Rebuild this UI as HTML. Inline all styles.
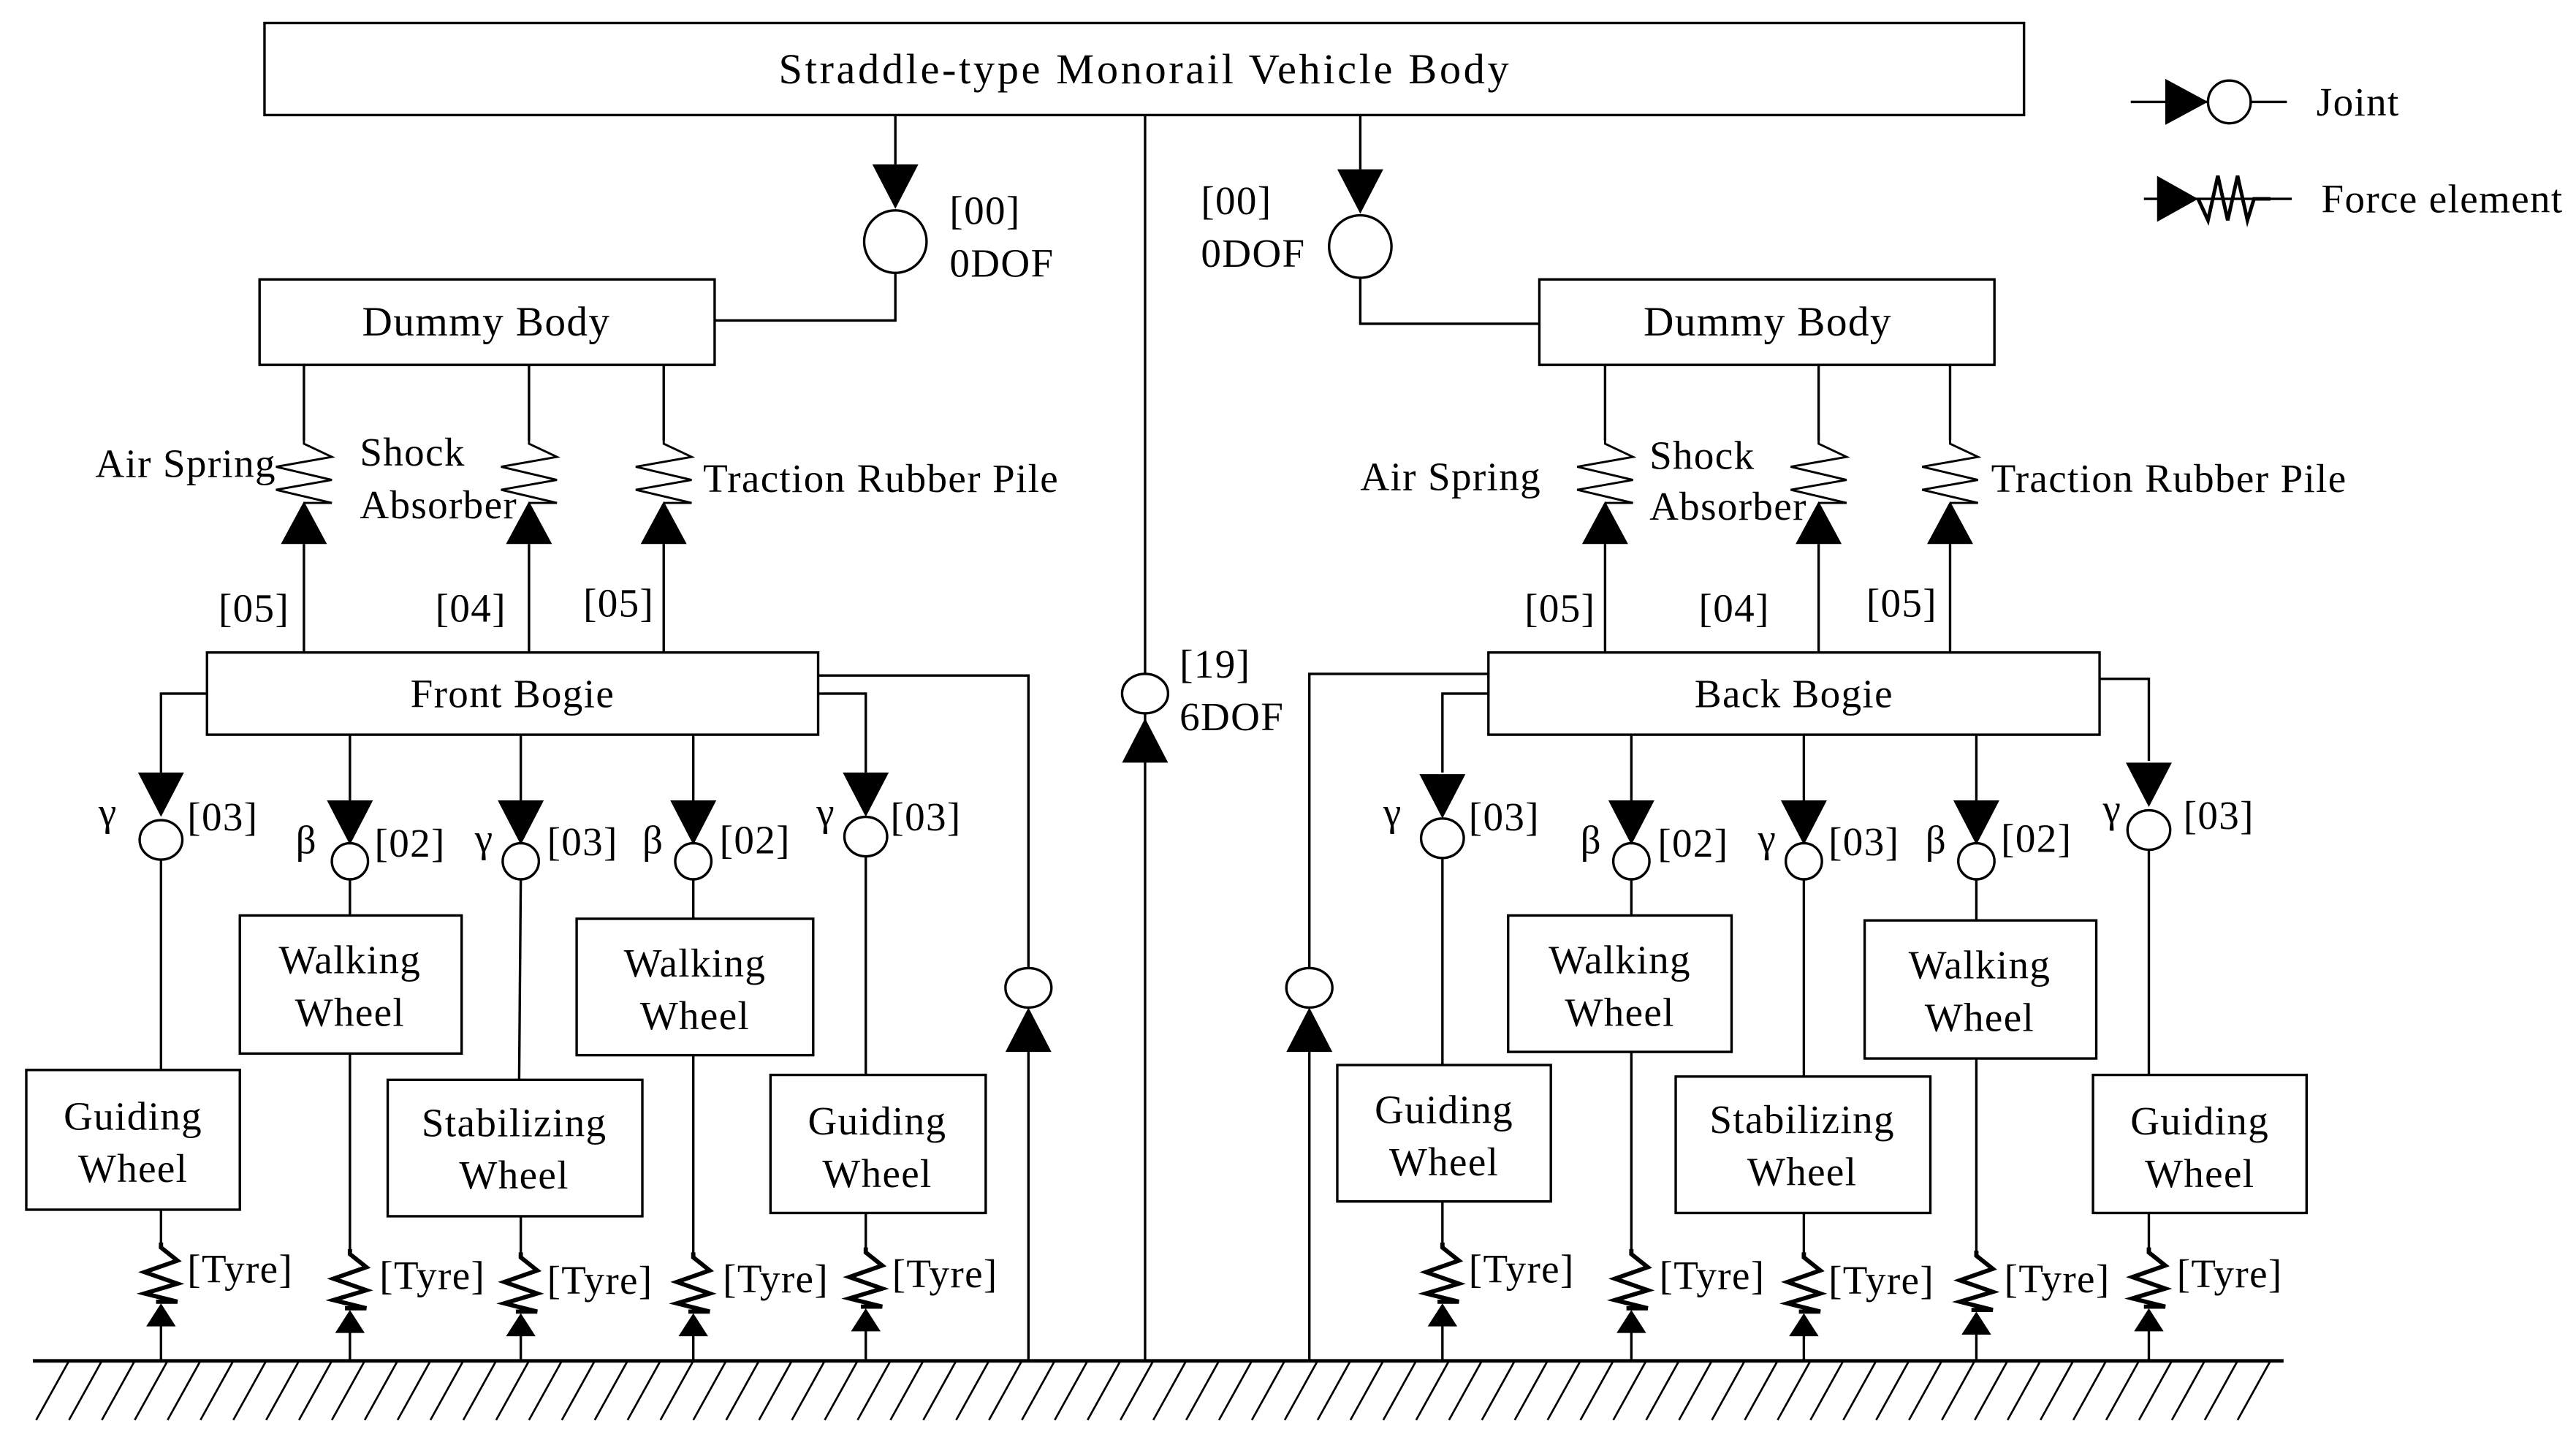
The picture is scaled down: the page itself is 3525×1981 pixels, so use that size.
<!DOCTYPE html>
<html><head><meta charset="utf-8"><style>
html,body{margin:0;padding:0;background:#fff}
svg{display:block}
text{font-family:"Liberation Serif",serif;fill:#000}
</style></head><body>
<svg width="3525" height="1981" viewBox="0 0 1568 881" preserveAspectRatio="none" xmlns="http://www.w3.org/2000/svg">
<defs>
<g id="jd"><polygon points="-14,0 14,0 0,27" fill="#000"/></g>
<g id="sp"><polyline points="0,0 0,4 17,12 -17,18 17,26 -17,32 17,40 0,40" fill="none" stroke="#000" stroke-width="1.3"/></g>
<g id="ty"><polyline points="0,0 0,3 10,11 -10,18 10,25 -10,31 10,36 -3,36" fill="none" stroke="#000" stroke-width="2.6"/><polygon points="0,37 -9,51 9,51" fill="#000"/></g>
</defs>
<g fill="none" stroke="#000" stroke-width="1.5">
<rect x="161" y="14" width="1071" height="56"/>
<rect x="158" y="170" width="277" height="52"/>
<rect x="937" y="170" width="277" height="52"/>
<rect x="126" y="397" width="372" height="50"/>
<rect x="906" y="397" width="372" height="50"/>
<rect x="16" y="651" width="130" height="85"/>
<rect x="146" y="557" width="135" height="84"/>
<rect x="236" y="657" width="155" height="83"/>
<rect x="351" y="559" width="144" height="83"/>
<rect x="469" y="654" width="131" height="84"/>
<rect x="814" y="648" width="130" height="83"/>
<rect x="918" y="557" width="136" height="83"/>
<rect x="1020" y="655" width="155" height="83"/>
<rect x="1135" y="560" width="141" height="84"/>
<rect x="1274" y="654" width="130" height="84"/>
<line x1="697" y1="70" x2="697" y2="828"/>
<line x1="545" y1="70" x2="545" y2="100"/>
<polyline points="545,166 545,195 435,195"/>
<ellipse cx="545" cy="147" rx="19" ry="19"/>
<line x1="828" y1="70" x2="828" y2="103"/>
<polyline points="828,169 828,197 937,197"/>
<ellipse cx="828" cy="150" rx="19" ry="19"/>
<line x1="185" y1="222" x2="185" y2="268"/><line x1="185" y1="331" x2="185" y2="397"/>
<line x1="322" y1="222" x2="322" y2="268"/><line x1="322" y1="331" x2="322" y2="397"/>
<line x1="404" y1="222" x2="404" y2="268"/><line x1="404" y1="331" x2="404" y2="397"/>
<line x1="977" y1="222" x2="977" y2="268"/><line x1="977" y1="331" x2="977" y2="397"/>
<line x1="1107" y1="222" x2="1107" y2="268"/><line x1="1107" y1="331" x2="1107" y2="397"/>
<line x1="1187" y1="222" x2="1187" y2="268"/><line x1="1187" y1="331" x2="1187" y2="397"/>
<ellipse cx="697" cy="422" rx="14" ry="12" fill="#fff"/>
<polyline points="498,411 626,411 626,589"/>
<ellipse cx="626" cy="601" rx="14" ry="12"/>
<line x1="626" y1="640" x2="626" y2="828"/>
<polyline points="906,410 797,410 797,589"/>
<ellipse cx="797" cy="601" rx="14" ry="12"/>
<line x1="797" y1="640" x2="797" y2="828"/>
<polyline points="126,422 98,422 98,470"/>
<line x1="213" y1="447" x2="213" y2="487"/>
<line x1="317" y1="447" x2="317" y2="487"/>
<line x1="422" y1="447" x2="422" y2="487"/>
<polyline points="498,422 527,422 527,470"/>
<polyline points="906,422 878,422 878,470"/>
<line x1="993" y1="447" x2="993" y2="487"/>
<line x1="1098" y1="447" x2="1098" y2="487"/>
<line x1="1203" y1="447" x2="1203" y2="487"/>
<polyline points="1278,413 1308,413 1308,463"/>
<ellipse cx="98" cy="511" rx="13" ry="12"/><ellipse cx="213" cy="524" rx="11" ry="11"/>
<ellipse cx="317" cy="524" rx="11" ry="11"/><ellipse cx="422" cy="524" rx="11" ry="11"/>
<ellipse cx="527" cy="509" rx="13" ry="12"/>
<ellipse cx="878" cy="510" rx="13" ry="12"/><ellipse cx="993" cy="524" rx="11" ry="11"/>
<ellipse cx="1098" cy="524" rx="11" ry="11"/><ellipse cx="1203" cy="524" rx="11" ry="11"/>
<ellipse cx="1308" cy="505" rx="13" ry="12"/>
<line x1="98" y1="523" x2="98" y2="651"/><line x1="213" y1="535" x2="213" y2="557"/>
<line x1="317" y1="535" x2="316" y2="657"/><line x1="422" y1="535" x2="422" y2="559"/>
<line x1="527" y1="521" x2="527" y2="654"/>
<line x1="878" y1="522" x2="878" y2="648"/><line x1="993" y1="535" x2="993" y2="557"/>
<line x1="1098" y1="535" x2="1098" y2="655"/><line x1="1203" y1="535" x2="1203" y2="560"/>
<line x1="1308" y1="517" x2="1308" y2="654"/>
<line x1="98" y1="736" x2="98" y2="758"/><line x1="98" y1="806" x2="98" y2="828"/>
<line x1="213" y1="641" x2="213" y2="762"/><line x1="213" y1="810" x2="213" y2="828"/>
<line x1="317" y1="740" x2="317" y2="764"/><line x1="317" y1="812" x2="317" y2="828"/>
<line x1="422" y1="642" x2="422" y2="764"/><line x1="422" y1="812" x2="422" y2="828"/>
<line x1="527" y1="738" x2="527" y2="761"/><line x1="527" y1="809" x2="527" y2="828"/>
<line x1="878" y1="731" x2="878" y2="758"/><line x1="878" y1="806" x2="878" y2="828"/>
<line x1="993" y1="640" x2="993" y2="762"/><line x1="993" y1="810" x2="993" y2="828"/>
<line x1="1098" y1="738" x2="1098" y2="764"/><line x1="1098" y1="812" x2="1098" y2="828"/>
<line x1="1203" y1="644" x2="1203" y2="763"/><line x1="1203" y1="811" x2="1203" y2="828"/>
<line x1="1308" y1="738" x2="1308" y2="761"/><line x1="1308" y1="809" x2="1308" y2="828"/>
<line x1="1297" y1="62" x2="1392" y2="62"/>
<ellipse cx="1357" cy="62" rx="13" ry="13" fill="#fff"/>
<line x1="1305" y1="121" x2="1395" y2="121"/>
</g>
<g fill="#000">
<polygon points="531,100 559,100 545,127"/>
<polygon points="814,103 842,103 828,130"/>
<polygon points="683,464 711,464 697,437"/>
<polygon points="612,640 640,640 626,613"/>
<polygon points="783,640 811,640 797,613"/>
<polygon points="171,331 199,331 185,305"/>
<polygon points="308,331 336,331 322,305"/>
<polygon points="390,331 418,331 404,305"/>
<polygon points="963,331 991,331 977,305"/>
<polygon points="1093,331 1121,331 1107,305"/>
<polygon points="1173,331 1201,331 1187,305"/>
<use href="#jd" x="98" y="470"/><use href="#jd" x="213" y="487"/><use href="#jd" x="317" y="487"/><use href="#jd" x="422" y="487"/><use href="#jd" x="527" y="470"/>
<use href="#jd" x="878" y="471"/><use href="#jd" x="993" y="487"/><use href="#jd" x="1098" y="487"/><use href="#jd" x="1203" y="487"/><use href="#jd" x="1308" y="464"/>
<polygon points="1318,48 1318,76 1344,62"/>
<polygon points="1313,107 1313,135 1338,121"/>
</g>
<polyline points="1338,121 1344,134 1350,107 1356,134 1362,107 1368,134 1372,121 1382,121" fill="none" stroke="#000" stroke-width="2.2"/>
<use href="#sp" x="185" y="266"/><use href="#sp" x="322" y="266"/><use href="#sp" x="404" y="266"/>
<use href="#sp" x="977" y="266"/><use href="#sp" x="1107" y="266"/><use href="#sp" x="1187" y="266"/>
<use href="#ty" x="98" y="756"/><use href="#ty" x="213" y="760"/><use href="#ty" x="317" y="762"/><use href="#ty" x="422" y="762"/><use href="#ty" x="527" y="759"/>
<use href="#ty" x="878" y="756"/><use href="#ty" x="993" y="760"/><use href="#ty" x="1098" y="762"/><use href="#ty" x="1203" y="761"/><use href="#ty" x="1308" y="759"/>
<line x1="20" y1="828" x2="1390" y2="828" stroke="#000" stroke-width="2.2"/>
<g stroke="#000" stroke-width="1.2">
<line x1="42" y1="828" x2="22" y2="864"/><line x1="62" y1="828" x2="42" y2="864"/><line x1="82" y1="828" x2="62" y2="864"/><line x1="102" y1="828" x2="82" y2="864"/><line x1="122" y1="828" x2="102" y2="864"/><line x1="142" y1="828" x2="122" y2="864"/><line x1="162" y1="828" x2="142" y2="864"/><line x1="182" y1="828" x2="162" y2="864"/><line x1="202" y1="828" x2="182" y2="864"/><line x1="222" y1="828" x2="202" y2="864"/><line x1="242" y1="828" x2="222" y2="864"/><line x1="262" y1="828" x2="242" y2="864"/><line x1="282" y1="828" x2="262" y2="864"/><line x1="302" y1="828" x2="282" y2="864"/><line x1="322" y1="828" x2="302" y2="864"/><line x1="342" y1="828" x2="322" y2="864"/><line x1="362" y1="828" x2="342" y2="864"/><line x1="382" y1="828" x2="362" y2="864"/><line x1="402" y1="828" x2="382" y2="864"/><line x1="422" y1="828" x2="402" y2="864"/><line x1="442" y1="828" x2="422" y2="864"/><line x1="462" y1="828" x2="442" y2="864"/><line x1="482" y1="828" x2="462" y2="864"/><line x1="502" y1="828" x2="482" y2="864"/><line x1="522" y1="828" x2="502" y2="864"/><line x1="542" y1="828" x2="522" y2="864"/><line x1="562" y1="828" x2="542" y2="864"/><line x1="582" y1="828" x2="562" y2="864"/><line x1="602" y1="828" x2="582" y2="864"/><line x1="622" y1="828" x2="602" y2="864"/><line x1="642" y1="828" x2="622" y2="864"/><line x1="662" y1="828" x2="642" y2="864"/><line x1="682" y1="828" x2="662" y2="864"/><line x1="702" y1="828" x2="682" y2="864"/><line x1="722" y1="828" x2="702" y2="864"/><line x1="742" y1="828" x2="722" y2="864"/><line x1="762" y1="828" x2="742" y2="864"/><line x1="782" y1="828" x2="762" y2="864"/><line x1="802" y1="828" x2="782" y2="864"/><line x1="822" y1="828" x2="802" y2="864"/><line x1="842" y1="828" x2="822" y2="864"/><line x1="862" y1="828" x2="842" y2="864"/><line x1="882" y1="828" x2="862" y2="864"/><line x1="902" y1="828" x2="882" y2="864"/><line x1="922" y1="828" x2="902" y2="864"/><line x1="942" y1="828" x2="922" y2="864"/><line x1="962" y1="828" x2="942" y2="864"/><line x1="982" y1="828" x2="962" y2="864"/><line x1="1002" y1="828" x2="982" y2="864"/><line x1="1022" y1="828" x2="1002" y2="864"/><line x1="1042" y1="828" x2="1022" y2="864"/><line x1="1062" y1="828" x2="1042" y2="864"/><line x1="1082" y1="828" x2="1062" y2="864"/><line x1="1102" y1="828" x2="1082" y2="864"/><line x1="1122" y1="828" x2="1102" y2="864"/><line x1="1142" y1="828" x2="1122" y2="864"/><line x1="1162" y1="828" x2="1142" y2="864"/><line x1="1182" y1="828" x2="1162" y2="864"/><line x1="1202" y1="828" x2="1182" y2="864"/><line x1="1222" y1="828" x2="1202" y2="864"/><line x1="1242" y1="828" x2="1222" y2="864"/><line x1="1262" y1="828" x2="1242" y2="864"/><line x1="1282" y1="828" x2="1262" y2="864"/><line x1="1302" y1="828" x2="1282" y2="864"/><line x1="1322" y1="828" x2="1302" y2="864"/><line x1="1342" y1="828" x2="1322" y2="864"/><line x1="1362" y1="828" x2="1342" y2="864"/><line x1="1382" y1="828" x2="1362" y2="864"/>
</g>
<g font-size="24.5" letter-spacing="0.6" dominant-baseline="central">
<text x="697" y="42" text-anchor="middle" font-size="26" letter-spacing="1.6">Straddle-type  Monorail Vehicle Body</text>
<text x="1410" y="62">Joint</text>
<text x="1413" y="121">Force element</text>
<text x="296" y="196" text-anchor="middle" font-size="25.5">Dummy Body</text>
<text x="1076" y="196" text-anchor="middle" font-size="25.5">Dummy Body</text>
<text x="312" y="422" text-anchor="middle">Front Bogie</text>
<text x="1092" y="422" text-anchor="middle">Back Bogie</text>
<text x="578" y="128">[00]</text><text x="578" y="160">0DOF</text>
<text x="731" y="122">[00]</text><text x="731" y="154">0DOF</text>
<text x="718" y="404">[19]</text><text x="718" y="436">6DOF</text>
<text x="58" y="282">Air  Spring</text>
<text x="219" y="275">Shock</text><text x="219" y="307">Absorber</text>
<text x="428" y="291">Traction Rubber Pile</text>
<text x="828" y="290">Air  Spring</text>
<text x="1004" y="277">Shock</text><text x="1004" y="308">Absorber</text>
<text x="1212" y="291">Traction Rubber Pile</text>
<text x="133" y="370">[05]</text><text x="265" y="370">[04]</text><text x="355" y="367">[05]</text>
<text x="928" y="370">[05]</text><text x="1034" y="370">[04]</text><text x="1136" y="367">[05]</text>
<text x="60" y="494">γ</text><text x="114" y="497">[03]</text>
<text x="180" y="511">β</text><text x="228" y="513">[02]</text>
<text x="289" y="510">γ</text><text x="333" y="512">[03]</text>
<text x="391" y="511">β</text><text x="438" y="511">[02]</text>
<text x="497" y="494">γ</text><text x="542" y="497">[03]</text>
<text x="842" y="494">γ</text><text x="894" y="497">[03]</text>
<text x="962" y="511">β</text><text x="1009" y="513">[02]</text>
<text x="1070" y="510">γ</text><text x="1113" y="512">[03]</text>
<text x="1172" y="511">β</text><text x="1218" y="510">[02]</text>
<text x="1280" y="492">γ</text><text x="1329" y="496">[03]</text>
<text x="81" y="679" text-anchor="middle">Guiding</text><text x="81" y="711" text-anchor="middle">Wheel</text>
<text x="213" y="584" text-anchor="middle">Walking</text><text x="213" y="616" text-anchor="middle">Wheel</text>
<text x="313" y="683" text-anchor="middle">Stabilizing</text><text x="313" y="715" text-anchor="middle">Wheel</text>
<text x="423" y="586" text-anchor="middle">Walking</text><text x="423" y="618" text-anchor="middle">Wheel</text>
<text x="534" y="682" text-anchor="middle">Guiding</text><text x="534" y="714" text-anchor="middle">Wheel</text>
<text x="879" y="675" text-anchor="middle">Guiding</text><text x="879" y="707" text-anchor="middle">Wheel</text>
<text x="986" y="584" text-anchor="middle">Walking</text><text x="986" y="616" text-anchor="middle">Wheel</text>
<text x="1097" y="681" text-anchor="middle">Stabilizing</text><text x="1097" y="713" text-anchor="middle">Wheel</text>
<text x="1205" y="587" text-anchor="middle">Walking</text><text x="1205" y="619" text-anchor="middle">Wheel</text>
<text x="1339" y="682" text-anchor="middle">Guiding</text><text x="1339" y="714" text-anchor="middle">Wheel</text>
<text x="114" y="772">[Tyre]</text><text x="231" y="776">[Tyre]</text><text x="333" y="779">[Tyre]</text><text x="440" y="778">[Tyre]</text><text x="543" y="775">[Tyre]</text>
<text x="894" y="772">[Tyre]</text><text x="1010" y="776">[Tyre]</text><text x="1113" y="779">[Tyre]</text><text x="1220" y="778">[Tyre]</text><text x="1325" y="775">[Tyre]</text>
</g>
</svg>
</body></html>
